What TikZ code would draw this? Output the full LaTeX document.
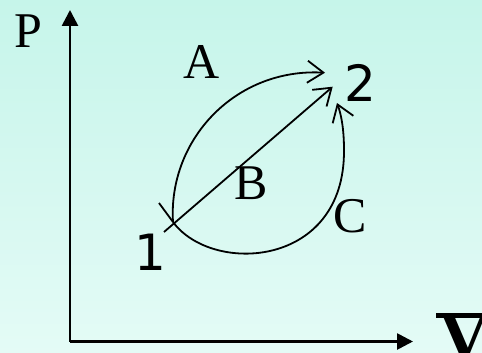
\documentclass[tikz,border=0pt]{standalone}
\usepackage{fontspec}
\setmainfont{Liberation Serif}
\newfontfamily\numfont{DejaVu Sans}
\usetikzlibrary{arrows.meta}
\definecolor{bgtop}{RGB}{198,245,234}
\definecolor{bgbot}{RGB}{228,251,246}
\newcommand{\vbarsym}{\rlap{\kern-0.05em\rule[0.6em]{0.9em}{0.07em}}\textbf{V}}

\begin{document}
\begin{tikzpicture}[x=1pt, y=-1pt,
    axis/.style={line width=2.7pt, -{Triangle[length=16pt, width=16pt]}},
    proc/.style={line width=1.8pt, -{Straight Barb[length=16pt, width=22pt]}},
    lbl/.style={font=\fontsize{50}{58}\selectfont, inner sep=0pt},
    num/.style={font=\numfont\fontsize{50}{58}\selectfont, inner sep=0pt}
]
    \useasboundingbox (0,0) rectangle (482,353);
    \clip (0,0) rectangle (482,353);
    \shade[top color=bgtop, bottom color=bgbot] (0,0) rectangle (482,353);

    % axes
    \coordinate (o) at (70,341.5);
    \coordinate (ptop) at (70,10);
    \coordinate (vend) at (413,341.5);
    \draw[axis] (o) -- (ptop);
    \draw[axis] (o) -- (vend);
    \node[lbl] (plbl) at (28,31) {P};
    \node[lbl, anchor=base, font=\fontsize{70}{80}\selectfont] (vlbl) at (465,360) {\vbarsym};

    % states
    \coordinate (p1) at (173,222);
    \coordinate (b1) at (164,232);
    \coordinate (tk) at (159,203);
    \coordinate (a2) at (325,72.7);
    \coordinate (b2) at (332.7,86.7);
    \coordinate (c2) at (337,103);
    \node[num] (n1) at (150,252) {1};
    \node[num] (n2) at (360,83) {2};

    % processes
    \draw[proc] (p1) .. controls (168,140) and (235,68) .. (a2);
    \draw[proc] (b1) -- (b2);
    \draw[proc] (p1) .. controls (212,275) and (345,268) .. (344,150)
        .. controls (344,128) and (341,114) .. (c2);
    \draw[line width=1.8pt] (p1) -- (tk);
    \node[lbl] (albl) at (202,62) {A};
    \node[lbl] (blbl) at (251,183) {B};
    \node[lbl] (clbl) at (350,216) {C};
\end{tikzpicture}
\end{document}
